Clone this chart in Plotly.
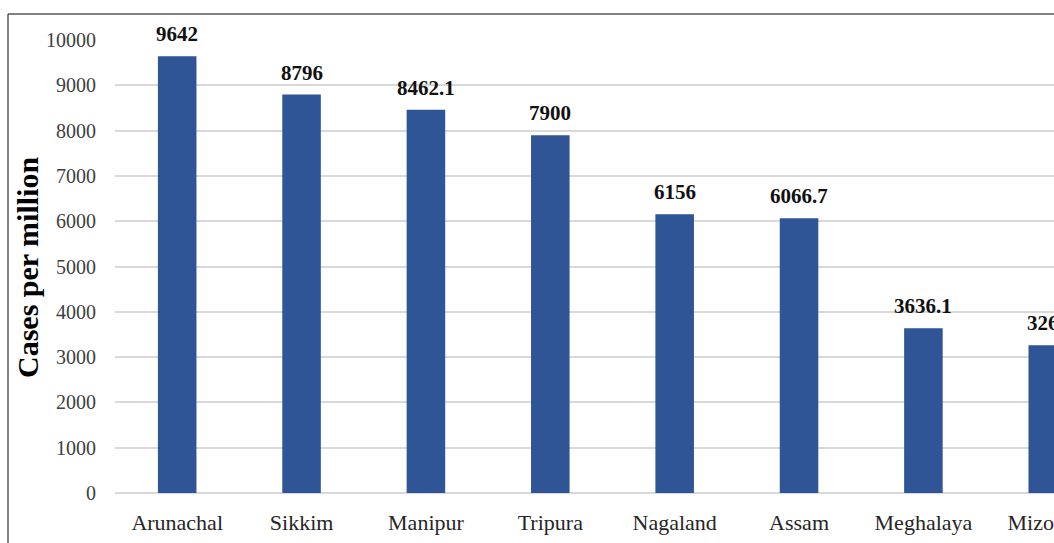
import plotly.graph_objects as go

states = ["Arunachal<br>Pradesh", "Sikkim", "Manipur", "Tripura", "Nagaland",
          "Assam", "Meghalaya", "Mizoram"]
cases_per_million = [9642, 8796, 8462.1, 7900, 6156, 6066.7, 3636.1, 3261]
y_ticks = list(range(0, 10001, 1000))

BAR_COLOR = "#2F5597"
SERIF = "Liberation Serif, Times New Roman, serif"

fig = go.Figure(
    go.Bar(
        x=states,
        y=cases_per_million,
        marker=dict(color=BAR_COLOR, line=dict(width=0)),
        width=0.31,
        hoverinfo="x+y",
    )
)

# value labels above each bar
for s, v in zip(states, cases_per_million):
    fig.add_annotation(
        x=s, y=v, text=f"<b>{v:g}</b>", showarrow=False,
        yanchor="bottom", yshift=8,
        font=dict(family=SERIF, size=21, color="#111111"),
    )

# axis title
fig.add_annotation(
    xref="paper", yref="paper", x=(27 - 115) / 939, y=(493 - 268) / 453,
    text="<b>Cases per million</b>", textangle=-90, showarrow=False,
    xanchor="center", yanchor="middle",
    font=dict(family=SERIF, size=30, color="#000000"),
)

# frame around the chart area
fig.add_shape(type="line", xref="paper", yref="paper",
              x0=(8 - 115) / 939, x1=1.2, y0=(493 - 14) / 453, y1=(493 - 14) / 453,
              line=dict(color="#595959", width=1.5))
fig.add_shape(type="line", xref="paper", yref="paper",
              x0=(8 - 115) / 939, x1=(8 - 115) / 939, y0=(493 - 14) / 453, y1=-0.2,
              line=dict(color="#595959", width=1.5))

fig.update_layout(
    width=1054, height=543,
    margin=dict(l=115, r=0, t=40, b=50),
    plot_bgcolor="white", paper_bgcolor="white",
    showlegend=False,
    xaxis=dict(
        range=[-0.5, 7.05], showgrid=False, showline=False, zeroline=False,
        automargin=False,
        ticks="outside", ticklen=10, tickcolor="rgba(0,0,0,0)",
        tickfont=dict(family=SERIF, size=22, color="#262626"),
    ),
    yaxis=dict(
        range=[0, 10000], tickvals=y_ticks, ticktext=[str(t) for t in y_ticks],
        showgrid=True, automargin=False,
        gridcolor="#D9D9D9", gridwidth=1.5, zeroline=True,
        zerolinecolor="#D9D9D9", zerolinewidth=1.5, showline=False,
        ticks="outside", ticklen=14, tickcolor="rgba(0,0,0,0)",
        tickfont=dict(family=SERIF, size=20, color="#404040"),
    ),
)

fig.write_html("out.html")
